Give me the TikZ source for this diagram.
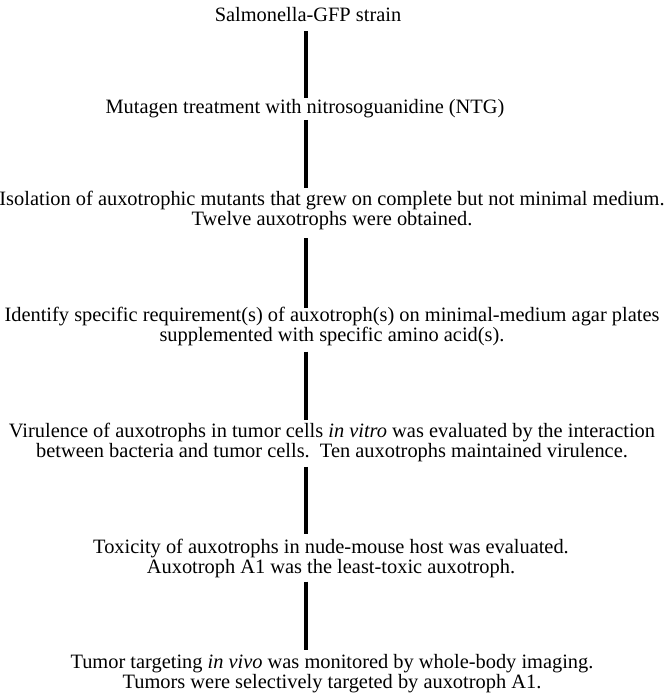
\documentclass[tikz,border=0pt]{standalone}
\usepackage{fontspec}
\setmainfont{Liberation Serif}
\usetikzlibrary{positioning}

\begin{document}
\begin{tikzpicture}[x=0.75pt,y=-0.75pt,
    step text/.style={align=center,inner sep=0pt,font=\fontsize{15.3}{15}\selectfont},
    bar/.style={line width=2.6pt}]
  \useasboundingbox (0,0) rectangle (665,696);
  \begin{scope}[every node/.style={step text}]
    \node (strain) at (308,15) {Salmonella-GFP strain};
    \node (ntg) at (305,109) {Mutagen treatment with nitrosoguanidine (NTG)};
    \node (isol) at (332,210) {Isolation of auxotrophic mutants that grew on complete but not minimal medium.\\
      Twelve auxotrophs were obtained.};
    \node (ident) at (332,326) {Identify specific requirement(s) of auxotroph(s) on minimal-medium agar plates\\
      supplemented with specific amino acid(s).};
    \node (vir) at (332,442.5) {Virulence of auxotrophs in tumor cells \textit{in vitro} was evaluated by the interaction\\
      between bacteria and tumor cells.\ \ Ten auxotrophs maintained virulence.};
    \node (tox) at (331,558) {Toxicity of auxotrophs in nude-mouse host was evaluated.\\
      Auxotroph A1 was the least-toxic auxotroph.};
    \node (target) at (332,674) {Tumor targeting \textit{in vivo} was monitored by whole-body imaging.\\
      Tumors were selectively targeted by auxotroph A1.};
  \end{scope}
  % one spine for all the bars
  \coordinate (spine) at (306,0);
  \draw[bar] ([yshift=-6.5pt]spine |- strain.south) -- ([yshift=1pt]spine |- ntg.north);
  \draw[bar] ([yshift=-1pt]spine |- ntg.south) -- ([yshift=2pt]spine |- isol.north);
  \draw[bar] ([yshift=-6.5pt]spine |- isol.south) -- ([yshift=-1.5pt]spine |- ident.north);
  \draw[bar] ([yshift=-4.5pt]spine |- ident.south) -- ([yshift=2pt]spine |- vir.north);
  \draw[bar] ([yshift=-3.5pt]spine |- vir.south) -- ([yshift=3.5pt]spine |- tox.north);
  \draw[bar] ([yshift=-3pt]spine |- tox.south) -- ([yshift=3.5pt]spine |- target.north);
\end{tikzpicture}
\end{document}
